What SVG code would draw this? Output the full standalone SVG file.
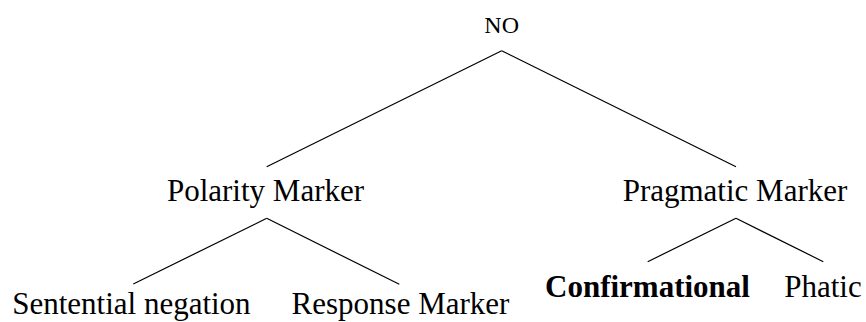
<svg xmlns="http://www.w3.org/2000/svg" width="866" height="322" viewBox="0 0 866 322">
  <style>
    .lbl { font-family: "Liberation Serif", "Times New Roman", serif; font-size: 31px; fill: #000; text-anchor: middle; }
    .root { font-size: 24px; }
    .bold { font-weight: bold; }
    .edge { stroke: #000; stroke-width: 1.2; fill: none; }
  </style>
  <rect width="866" height="322" fill="#fff"/>
  <g id="connectors">
    <line class="edge" x1="501.7" y1="50.7" x2="266.7" y2="166.7"/>
    <line class="edge" x1="501.7" y1="50.7" x2="736" y2="166.7"/>
    <line class="edge" x1="266.7" y1="218.3" x2="133.3" y2="284"/>
    <line class="edge" x1="266.7" y1="218.3" x2="399.3" y2="284.3"/>
    <line class="edge" x1="736" y1="218.3" x2="647.7" y2="261.7"/>
    <line class="edge" x1="736" y1="218.3" x2="823.3" y2="261.7"/>
  </g>
  <g id="node-no"><text class="lbl root" x="501.7" y="33.3">NO</text></g>
  <g id="node-polarity"><text class="lbl" x="265.5" y="201">Polarity Marker</text></g>
  <g id="node-pragmatic"><text class="lbl" x="735" y="201">Pragmatic Marker</text></g>
  <g id="node-sentential"><text class="lbl" x="131.4" y="314">Sentential negation</text></g>
  <g id="node-response"><text class="lbl" x="400.5" y="314">Response Marker</text></g>
  <g id="node-confirmational"><text class="lbl bold" x="647.5" y="297">Confirmational</text></g>
  <g id="node-phatic"><text class="lbl" x="823" y="297">Phatic</text></g>
</svg>
